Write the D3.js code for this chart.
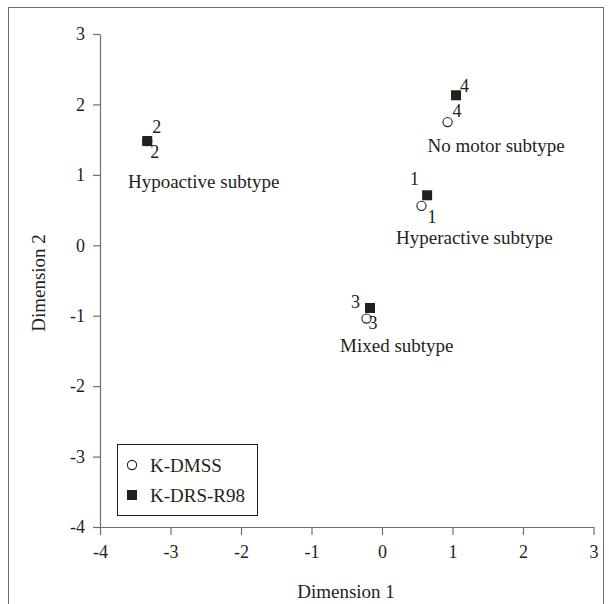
<!DOCTYPE html>
<html>
<head>
<meta charset="utf-8">
<script src="https://cdn.jsdelivr.net/npm/d3@7"></script>
<style>
  html, body { margin: 0; padding: 0; background: #fff; }
  svg text { font-family: "Liberation Serif", "Times New Roman", serif; fill: #231f20; }
</style>
</head>
<body>
<svg id="chart" width="609" height="604"></svg>
<script>
// ---- data ----
const ids = ["1", "2", "3", "4"];
const kdmssX = [0.56, -3.33, -0.22, 0.93];
const kdmssY = [0.56, 1.48, -1.04, 1.75];
const kdrsX = [0.64, -3.33, -0.17, 1.05];
const kdrsY = [0.71, 1.48, -0.89, 2.13];
const xTicks = [-4, -3, -2, -1, 0, 1, 2, 3];
const yTicks = [-4, -3, -2, -1, 0, 1, 2, 3];
const seriesNames = ["K-DMSS", "K-DRS-R98"];
const subtypeNames = ["Hypoactive subtype", "No motor subtype", "Hyperactive subtype", "Mixed subtype"];
const subtypeX = [-2.53, 1.62, 1.31, 0.21];
const subtypeY = [0.81, 1.32, 0.02, -1.51];

// ---- layout ----
const svg = d3.select("#chart");
const x = d3.scaleLinear().domain([-4, 3]).range([100, 593.5]);
const y = d3.scaleLinear().domain([-4, 3]).range([527, 34]);
const axisColor = "#6d6e71";
const serif = '"Liberation Serif", "Times New Roman", serif';
const fs = 18;

// outer frame
svg.append("rect").attr("x", 8.5).attr("y", 7.5).attr("width", 595).attr("height", 620)
  .attr("fill", "none").attr("stroke", axisColor).attr("stroke-width", 1);

// axes
const xAxis = svg.append("g").attr("transform", `translate(0,${y(-4)})`)
  .call(d3.axisBottom(x).tickValues(xTicks).tickSize(8).tickSizeOuter(0).tickPadding(10).tickFormat(d3.format("d")));
const yAxis = svg.append("g").attr("transform", `translate(${x(-4)},0)`)
  .call(d3.axisLeft(y).tickValues(yTicks).tickSize(7).tickSizeOuter(0).tickPadding(8).tickFormat(d3.format("d")));
[xAxis, yAxis].forEach(g => {
  g.attr("font-family", serif).attr("font-size", fs);
  g.select(".domain").attr("stroke", axisColor).attr("stroke-width", 1.2);
  g.selectAll(".tick line").attr("stroke", axisColor).attr("stroke-width", 1.2);
  g.selectAll(".tick text").style("font-family", serif).style("font-size", fs + "px").attr("fill", "#231f20")
    .text(d => d < 0 ? "-" + Math.abs(d) : d);
});
yAxis.selectAll(".tick text").attr("dy", "0.32em");

// axis titles
svg.append("text").attr("x", 346).attr("y", 598).attr("text-anchor", "middle")
  .style("font-size", "19px").text("Dimension 1");
svg.append("text").attr("transform", "translate(45,283) rotate(-90)").attr("text-anchor", "middle")
  .style("font-size", "19px").text("Dimension 2");

// subtype annotations
svg.selectAll("text.sub").data(subtypeNames).join("text").attr("class", "sub")
  .attr("x", (d, i) => x(subtypeX[i])).attr("y", (d, i) => y(subtypeY[i]))
  .attr("text-anchor", "middle").style("font-size", "19px").text(d => d);

// markers: circles (K-DMSS) under squares (K-DRS-R98)
const sq = 10, r = 4.6;
svg.selectAll("circle.dmss").data(ids).join("circle").attr("class", "dmss")
  .attr("cx", (d, i) => x(kdmssX[i])).attr("cy", (d, i) => y(kdmssY[i])).attr("r", r)
  .attr("fill", "#fff").attr("stroke", "#231f20").attr("stroke-width", 1.1);
svg.selectAll("rect.drs").data(ids).join("rect").attr("class", "drs")
  .attr("x", (d, i) => x(kdrsX[i]) - sq / 2).attr("y", (d, i) => y(kdrsY[i]) - sq / 2)
  .attr("width", sq).attr("height", sq).attr("fill", "#231f20");

// point labels (offsets in pixels, relative to marker)
const dmssLabelOff = [[6, 17, "start"], [3, 17, "start"], [2, 10, "start"], [5, -5, "start"]];
const drsLabelOff = [[-8, -10, "end"], [5, -8, "start"], [-10, 0, "end"], [4, -3, "start"]];
svg.selectAll("text.dmssl").data(ids).join("text").attr("class", "dmssl")
  .attr("x", (d, i) => x(kdmssX[i]) + dmssLabelOff[i][0])
  .attr("y", (d, i) => y(kdmssY[i]) + dmssLabelOff[i][1])
  .attr("text-anchor", (d, i) => dmssLabelOff[i][2]).style("font-size", fs + "px").text(d => d);
svg.selectAll("text.drsl").data(ids).join("text").attr("class", "drsl")
  .attr("x", (d, i) => x(kdrsX[i]) + drsLabelOff[i][0])
  .attr("y", (d, i) => y(kdrsY[i]) + drsLabelOff[i][1])
  .attr("text-anchor", (d, i) => drsLabelOff[i][2]).style("font-size", fs + "px").text(d => d);

// legend
const lg = svg.append("g");
lg.append("rect").attr("x", 117.5).attr("y", 444.5).attr("width", 140).attr("height", 71)
  .attr("fill", "#fff").attr("stroke", "#231f20").attr("stroke-width", 1);
lg.append("circle").attr("cx", 132).attr("cy", 465).attr("r", r)
  .attr("fill", "#fff").attr("stroke", "#231f20").attr("stroke-width", 1.1);
lg.append("rect").attr("x", 127).attr("y", 490).attr("width", sq).attr("height", sq).attr("fill", "#231f20");
lg.selectAll("text").data(seriesNames).join("text")
  .attr("x", 150).attr("y", (d, i) => 472 + i * 30).style("font-size", "19px").text(d => d);
</script>
</body>
</html>
